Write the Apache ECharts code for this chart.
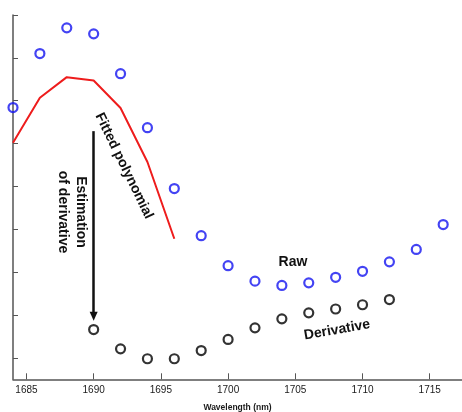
<!DOCTYPE html>
<html>
<head>
<meta charset="utf-8">
<script src="https://cdn.jsdelivr.net/npm/echarts@6/dist/echarts.min.js"></script>
<style>
  html, body { margin: 0; padding: 0; background: #fff; }
  #chart { width: 462px; height: 412px; }
</style>
</head>
<body>
<div id="chart"></div>
<script>
// Wavelength grid (nm)
const rawWavelengths = [1684, 1686, 1688, 1690, 1692, 1694, 1696, 1698, 1700, 1702, 1704, 1706, 1708, 1710, 1712, 1714, 1716];
// Raw spectrum (arbitrary units)
const rawValues = [5.84, 7.10, 7.70, 7.56, 6.63, 5.37, 3.95, 2.85, 2.15, 1.79, 1.69, 1.75, 1.88, 2.02, 2.24, 2.53, 3.11];

// Local polynomial fit over the first window
const fitWavelengths = [1684, 1686, 1688, 1690, 1692, 1694, 1696];
const fitValues = [5.02, 6.07, 6.55, 6.47, 5.83, 4.57, 2.78];

// Derivative estimates
const derivWavelengths = [1690, 1692, 1694, 1696, 1698, 1700, 1702, 1704, 1706, 1708, 1710, 1712];
const derivValues = [0.66, 0.21, -0.02, -0.02, 0.17, 0.43, 0.70, 0.91, 1.05, 1.14, 1.24, 1.36];

// Axis ticks
const xTickValues = [1685, 1690, 1695, 1700, 1705, 1710, 1715];
const yTickValues = [0, 1, 2, 3, 4, 5, 6, 7, 8];

// Arrow from the fitted curve down to the first derivative point
const arrowX = 1690;
const arrowFrom = 5.29;
const arrowTo = 0.97;

const pairs = (xs, ys) => xs.map((x, i) => [x, ys[i]]);

const FONT = '"Liberation Sans", Arial, Helvetica, sans-serif';
const chart = echarts.init(document.getElementById('chart'), null, { renderer: 'canvas' });

chart.setOption({
  animation: false,
  backgroundColor: '#ffffff',
  grid: { left: 13, right: 0, top: 15, bottom: 32.7, containLabel: false, outerBoundsMode: 'none' },
  xAxis: {
    type: 'value',
    min: 1684,
    max: 1717.4,
    name: 'Wavelength (nm)',
    nameLocation: 'middle',
    nameGap: 24,
    nameTextStyle: { fontFamily: FONT, fontSize: 8.5, fontWeight: 'bold', color: '#1a1a1a' },
    axisLine: { show: true, onZero: false, lineStyle: { color: '#555', width: 1.5 } },
    axisTick: { show: true, inside: true, length: 6, customValues: xTickValues, lineStyle: { color: '#555', width: 1 } },
    axisLabel: {
      show: true, customValues: xTickValues, margin: 6,
      formatter: v => String(Math.round(v)),
      fontFamily: FONT, fontSize: 10, color: '#1a1a1a'
    },
    splitLine: { show: false }
  },
  yAxis: {
    type: 'value',
    min: -0.5,
    max: 8,
    axisLine: { show: true, onZero: false, lineStyle: { color: '#555', width: 1.5 } },
    axisTick: { show: true, inside: true, length: 5, customValues: yTickValues, lineStyle: { color: '#555', width: 1 } },
    axisLabel: { show: false },
    splitLine: { show: false }
  },
  series: [
    {
      name: 'Fitted polynomial',
      type: 'line',
      data: pairs(fitWavelengths, fitValues),
      showSymbol: false,
      symbol: 'none',
      lineStyle: { color: '#ee1c1c', width: 2 },
      z: 2
    },
    {
      name: 'Raw',
      type: 'scatter',
      data: pairs(rawWavelengths, rawValues),
      symbol: 'circle',
      symbolSize: 9,
      clip: false,
      itemStyle: { color: 'rgba(0,0,0,0)', borderColor: '#1414f0', borderWidth: 2.2 },
      z: 3
    },
    {
      name: 'Derivative',
      type: 'scatter',
      data: pairs(derivWavelengths, derivValues),
      symbol: 'circle',
      symbolSize: 9,
      clip: false,
      itemStyle: { color: 'rgba(0,0,0,0)', borderColor: '#000000', borderWidth: 2.2 },
      z: 3,
      markLine: {
        silent: true,
        animation: false,
        symbol: ['none', 'triangle'],
        symbolSize: [8, 9],
        label: { show: false },
        lineStyle: { color: '#111', width: 2.5, type: 'solid' },
        data: [[{ coord: [arrowX, arrowFrom] }, { coord: [arrowX, arrowTo] }]]
      }
    }
  ],
  graphic: [
    {
      type: 'text',
      x: 124, y: 166,
      rotation: -64 * Math.PI / 180,
      style: {
        text: 'Fitted polynomial',
        fontFamily: FONT, fontSize: 14, fontWeight: 'bold', fill: '#111',
        align: 'center', verticalAlign: 'middle'
      }
    },
    {
      type: 'text',
      x: 72, y: 212,
      rotation: -Math.PI / 2,
      style: {
        text: 'Estimation\nof derivative',
        fontFamily: FONT, fontSize: 14, fontWeight: 'bold', fill: '#111',
        align: 'center', verticalAlign: 'middle', lineHeight: 18
      }
    },
    {
      type: 'text',
      x: 293, y: 262,
      style: {
        text: 'Raw',
        fontFamily: FONT, fontSize: 14, fontWeight: 'bold', fill: '#111',
        align: 'center', verticalAlign: 'middle'
      }
    },
    {
      type: 'text',
      x: 337, y: 330,
      rotation: 10 * Math.PI / 180,
      style: {
        text: 'Derivative',
        fontFamily: FONT, fontSize: 14, fontWeight: 'bold', fill: '#111',
        align: 'center', verticalAlign: 'middle'
      }
    }
  ]
});
</script>
</body>
</html>
